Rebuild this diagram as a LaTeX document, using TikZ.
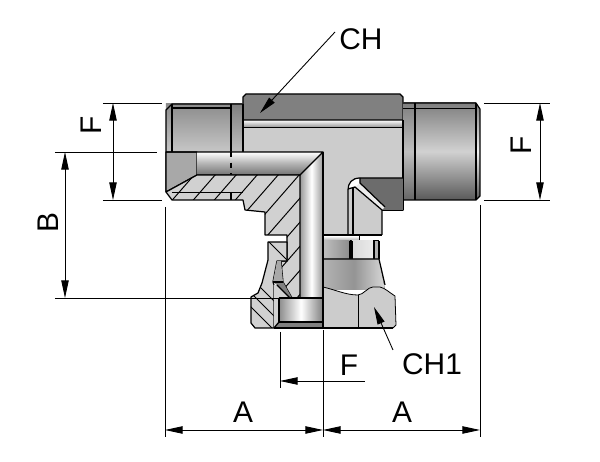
\documentclass[tikz,border=0pt]{standalone}
\usepackage{fontspec}
\setmainfont{Liberation Sans}
\usepackage{xcolor}
\usetikzlibrary{
    arrows.meta,
    calc,
    positioning
}
\definecolor{bodygray}{gray}{0.80}
\definecolor{bandgray}{gray}{0.50}
\definecolor{stepgray}{gray}{0.66}
\definecolor{secgray}{gray}{0.82}
\tikzset{
    outline/.style={draw=black, line width=0.7pt, line join=round},
    thinline/.style={draw=black, line width=0.45pt},
    hatchline/.style={draw=black, line width=0.55pt},
    dimline/.style={draw=black, line width=0.5pt, >={Stealth[length=10pt, width=4.2pt, inset=0pt]}},
    dimtext/.style={font=\fontsize{17}{19}\selectfont, inner sep=0pt}
}
\begin{document}
\begin{tikzpicture}[x=0.02cm, y=-0.02cm]
    \useasboundingbox (0, 0) rectangle (600, 462);
    \fill[white] (0, 0) rectangle (600, 462);
    % body of the tee
    \fill[bodygray] (243, 127) -- (403, 127) -- (403, 178) -- (360, 178) .. controls (352, 178) and (348, 183) .. (348, 190) -- (348, 235) -- (323, 235) -- (323, 152) -- (243, 152) -- cycle;
    \fill[bodygray] (348, 189) -- (355, 187) -- (382, 210) -- (382, 235) -- (348, 235) -- cycle;
    \fill[top color=white, bottom color=black!40] (243, 120) rectangle (403, 127);
    \draw[outline, fill=bandgray] (243, 120) -- (243, 97) -- (246, 94) -- (400, 94) -- (403, 97) -- (403, 120) -- cycle;
    \draw[thinline] (243, 127) -- (403, 127);
    % left thread
    \fill[top color=black!45, bottom color=black!22] (166, 104) rectangle (231, 152);
    \fill[top color=black!50, bottom color=black!25] (231, 104) rectangle (243, 152);
    \draw[outline] (243, 104) -- (172, 104) -- (166, 110) -- (166, 192);
    \draw[outline] (172, 104) -- (172, 152);
    \draw[outline] (172, 108) -- (231, 108);
    \draw[outline] (231, 104) -- (231, 152);
    \draw[outline] (243, 104) -- (243, 152);
    % right thread
    \fill[top color=black!50, bottom color=black!65, middle color=black!18] (415, 103) rectangle (476, 200);
    \fill[top color=black!50, bottom color=black!65, middle color=black!5] (476, 103) -- (480, 109) -- (480, 196) -- (476, 200) -- cycle;
    \fill[top color=black!50, bottom color=black!60, middle color=black!25] (403, 103) rectangle (415, 200);
    \draw[outline] (403, 103) -- (476, 103) -- (480, 109) -- (480, 196) -- (476, 200) -- (403, 200);
    \draw[outline] (476, 103) -- (476, 200);
    \draw[outline, line width=1.1pt] (415, 103) -- (415, 200);
    \draw[thinline] (403, 108) -- (476, 108);
    \draw[outline] (403, 120) -- (403, 210) -- (382, 210);
    % branch towards the right thread
    \fill[bandgray!85!black] (360, 178) -- (403, 178) -- (403, 210) -- (382, 210) -- (360, 183) -- cycle;
    \fill[white!85!gray] (355, 187) -- (360, 183) -- (385, 207) -- (382, 210) -- cycle;
    \draw[outline] (348, 235) -- (348, 190) .. controls (348, 183) and (352, 178) .. (360, 178) -- (403, 178);
    \draw[outline] (353, 235) -- (353, 188);
    \draw[outline] (348, 189) -- (355, 187) -- (382, 210) -- (382, 235);
    \draw[outline] (360, 178) -- (360, 183) -- (385, 207);
    % bore of the left thread
    \draw[outline, fill=stepgray] (166, 152) -- (197, 152) -- (197, 175) -- (166, 192) -- cycle;
    \fill[top color=white, bottom color=black!55, middle color=black!30] (197, 152) -- (323, 152) -- (300, 175) -- (197, 175) -- cycle;
    \fill[left color=black!40, right color=black!40, middle color=white] (300, 175) -- (323, 152) -- (323, 298) -- (300, 298) -- cycle;
    \draw[outline] (166, 152) -- (323, 152) -- (300, 175) -- (197, 175);
    \draw[outline, dashed] (231, 152) -- (231, 200);
    % hatched section of the body
    \fill[secgray] (166, 192) -- (197, 175) -- (300, 175) -- (300, 298) -- (292, 298) -- (283, 282) -- (281, 261) -- (287, 261) -- (287, 235) -- (265, 235) -- (265, 212) -- (245, 210) -- (243, 200) -- (172, 200) -- cycle;
    \begin{scope}
        \clip (166, 192) -- (197, 175) -- (300, 175) -- (300, 298) -- (292, 298) -- (283, 282) -- (281, 261) -- (287, 261) -- (287, 235) -- (265, 235) -- (265, 212) -- (245, 210) -- (243, 200) -- (172, 200) -- cycle;
        \foreach \c in {173, 194, ..., 425} {
            \draw[hatchline] (\c, 175) ++(35, -40) -- ++(-170, 195);
        }
    \end{scope}
    \draw[outline] (166, 192) -- (197, 175) -- (300, 175) -- (300, 298);
    \draw[outline] (292, 298) -- (283, 282) -- (281, 261) -- (287, 261) -- (287, 235) -- (265, 235) -- (265, 212) -- (245, 210) -- (243, 200) -- (172, 200) -- (166, 192);
    \draw[thinline] (172, 192) -- (243, 192);
    \draw[outline] (231, 192) -- (231, 200);
    % section of the nut
    \fill[secgray] (251, 297) -- (258, 293) -- (262, 283) -- (268, 260) -- (268, 242) -- (287, 242) -- (287, 261) -- (277, 261) -- (273, 282) -- (274, 285) -- (274, 328) -- (255, 328) -- (251, 323) -- cycle;
    \begin{scope}
        \clip (251, 297) -- (258, 293) -- (262, 283) -- (268, 260) -- (268, 242) -- (287, 242) -- (287, 261) -- (277, 261) -- (273, 282) -- (274, 285) -- (274, 328) -- (255, 328) -- (251, 323) -- cycle;
        \foreach \c in {-56, -42, -27, 27} {
            \draw[hatchline] (\c + 240, 240) -- ++(100, 100);
        }
    \end{scope}
    \draw[outline] (251, 297) -- (258, 293) -- (262, 283) -- (268, 260) -- (268, 242) -- (287, 242) -- (287, 261) -- (277, 261) -- (273, 282) -- (274, 285) -- (274, 328) -- (255, 328) -- (251, 323) -- cycle;
    % seal and nut bore
    \fill[stepgray] (277, 261) -- (281, 261) -- (283, 282) -- (273, 282) -- cycle;
    \fill[bandgray] (273, 282) -- (283, 282) -- (292, 298) -- (290, 298) -- (277, 285) -- cycle;
    \fill[black!18] (274, 285) -- (277, 285) -- (290, 298) -- (279, 298) -- (279, 322) -- (274, 328) -- cycle;
    \fill[left color=black!45, right color=black!50, middle color=white] (279, 298) rectangle (323, 322);
    \fill[bandgray] (274, 328) -- (279, 322) -- (323, 322) -- (323, 328) -- cycle;
    \draw[outline] (277, 285) -- (290, 298);
    \draw[outline] (273, 282) -- (283, 282);
    \draw[outline, line width=1pt] (279, 298) -- (323, 298);
    \draw[outline] (279, 298) -- (279, 322) -- (323, 322);
    \draw[outline] (274, 328) -- (279, 322);
    \draw[outline] (274, 328) -- (323, 328);
    % neck and nut, right of the axis
    \fill[top color=white, bottom color=black!35] (323, 236) rectangle (359, 241);
    \draw[outline] (323, 235) -- (382, 235);
    \draw[outline] (323, 241) -- (379, 241);
    \draw[thinline] (359, 235) -- (359, 241);
    \fill[left color=black!25, right color=black!45] (323, 241) rectangle (350, 259);
    \fill[left color=black!15, right color=black!8] (352, 241) rectangle (373, 259);
    \fill[black!30] (373, 241) rectangle (379, 259);
    \draw[outline] (350, 241) -- (350, 259);
    \draw[outline] (352, 241) -- (352, 259);
    \draw[outline, line width=1.1pt] (374, 241) -- (374, 259);
    \draw[outline] (379, 241) -- (379, 259);
    \fill[left color=black!30, right color=black!15, middle color=black!42] (323, 259) -- (379, 259) -- (385, 290) -- (323, 290) -- cycle;
    \draw[outline] (323, 259) -- (379, 259) -- (385, 285);
    \fill[black!20] (323, 287) .. controls (336, 290) and (346, 295) .. (358, 295) .. controls (363, 295) and (368, 287) .. (373, 287) -- (380, 287) .. controls (385, 288) and (390, 293) .. (395, 296) -- (396, 325) -- (393, 328) -- (323, 328) -- cycle;
    \draw[thinline] (323, 287) .. controls (336, 290) and (346, 295) .. (358, 295) .. controls (363, 295) and (368, 287) .. (373, 287) -- (380, 287) .. controls (385, 288) and (390, 293) .. (395, 296) -- (396, 325) -- (393, 328);
    \draw[outline] (323, 328) -- (393, 328);
    \draw[thinline] (358, 295) -- (358, 328);
    \draw[outline, line width=1.3pt] (349, 328) -- (366, 328);
    \draw[outline] (323, 152) -- (323, 328);
    % leaders with their labels
    \node[dimtext] (ch) at (361, 39) {CH};
    \node[dimtext] (chone) at (432, 364) {CH1};
    \coordinate (chfrom) at (335, 32);
    \coordinate (chto) at (260, 113);
    \coordinate (chonefrom) at (393, 350);
    \coordinate (choneto) at (374, 307);
    \draw[dimline, ->] (chfrom) -- (chto);
    \draw[dimline, ->] (chonefrom) -- (choneto);
    % dimensions
    \coordinate (fla) at (103, 103);
    \coordinate (flb) at (162, 103);
    \coordinate (flc) at (103, 200);
    \coordinate (fld) at (162, 200);
    \coordinate (fle) at (113, 103);
    \coordinate (flf) at (113, 200);
    \draw[dimline] (fla) -- (flb);
    \draw[dimline] (flc) -- (fld);
    \draw[dimline, <->] (fle) -- (flf);
    \node[dimtext, rotate=90] (fl) at (91, 125) {F};
    \coordinate (bta) at (55, 152);
    \coordinate (btb) at (157, 152);
    \coordinate (bba) at (55, 298);
    \coordinate (bbb) at (290, 298);
    \coordinate (bda) at (65, 152);
    \coordinate (bdb) at (65, 298);
    \draw[dimline] (bta) -- (btb);
    \draw[dimline] (bba) -- (bbb);
    \draw[dimline, <->] (bda) -- (bdb);
    \node[dimtext, rotate=90] (bl) at (48, 223) {B};
    \coordinate (fra) at (484, 103);
    \coordinate (frb) at (550, 103);
    \coordinate (frc) at (484, 200);
    \coordinate (frd) at (550, 200);
    \coordinate (fre) at (540, 103);
    \coordinate (frf) at (540, 200);
    \draw[dimline] (fra) -- (frb);
    \draw[dimline] (frc) -- (frd);
    \draw[dimline, <->] (fre) -- (frf);
    \node[dimtext, rotate=90] (fr) at (521, 145) {F};
    \coordinate (fba) at (280, 332);
    \coordinate (fbb) at (280, 388);
    \coordinate (fbc) at (280, 381);
    \coordinate (fbd) at (365, 381);
    \draw[dimline] (fba) -- (fbb);
    \draw[dimline, <-] (fbc) -- (fbd);
    \node[dimtext] (fb) at (349, 365) {F};
    \coordinate (aua) at (165, 207);
    \coordinate (aub) at (165, 437);
    \coordinate (ava) at (323, 330);
    \coordinate (avb) at (323, 437);
    \coordinate (awa) at (480, 205);
    \coordinate (awb) at (480, 437);
    \coordinate (ada) at (165, 430);
    \coordinate (adb) at (323, 430);
    \coordinate (adc) at (480, 430);
    \draw[dimline] (aua) -- (aub);
    \draw[dimline] (ava) -- (avb);
    \draw[dimline] (awa) -- (awb);
    \draw[dimline, <->] (ada) -- (adb);
    \draw[dimline, <->] (adb) -- (adc);
    \node[dimtext] (al) at (243, 412) {A};
    \node[dimtext] (ar) at (402, 412) {A};
\end{tikzpicture}
\end{document}
